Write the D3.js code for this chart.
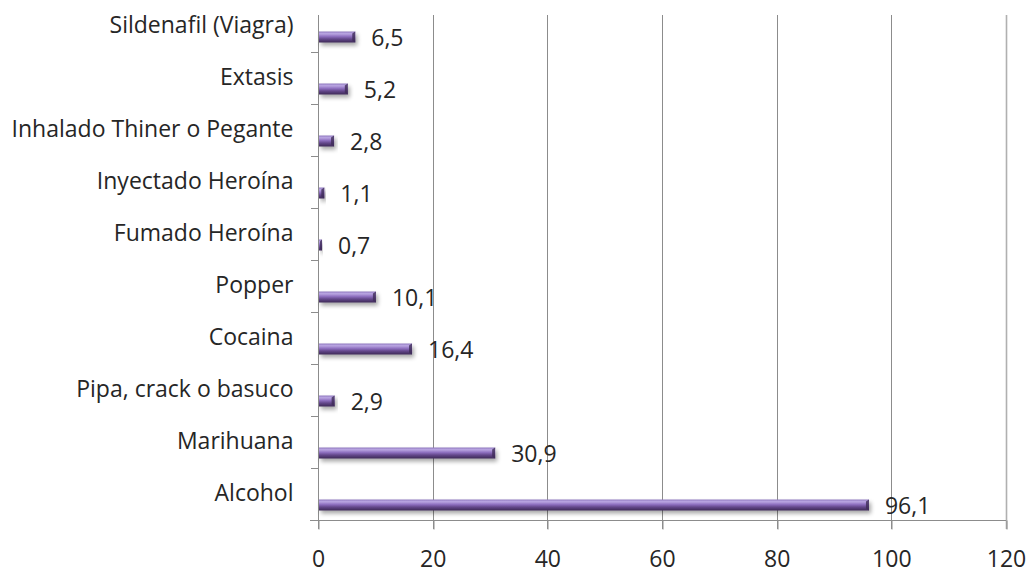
<!DOCTYPE html>
<html>
<head>
<meta charset="utf-8">
<script src="https://cdn.jsdelivr.net/npm/d3@7"></script>
<style>
  html, body { margin: 0; padding: 0; background: #fff; }
  svg text { font-family: "Open Sans", "Lato", sans-serif; fill: #262626; }
</style>
</head>
<body>
<svg id="chart" width="1033" height="575"></svg>
<script>
// Substances, listed bottom to top as they appear on the category axis
const categories = [
  "Alcohol", "Marihuana", "Pipa, crack o basuco", "Cocaina", "Popper",
  "Fumado Heroína", "Inyectado Heroína", "Inhalado Thiner o Pegante",
  "Extasis", "Sildenafil (Viagra)"
];
const values = [96.1, 30.9, 2.9, 16.4, 10.1, 0.7, 1.1, 2.8, 5.2, 6.5];
const tickValues = [0, 20, 40, 60, 80, 100, 120];
const valueLabels = values.map(v => String(v).replace(".", ","));

const svg = d3.select("#chart");
const fontFamily = "'Open Sans', Lato, sans-serif";
const fontSize = 23;

const plotLeft = 318, plotRight = 1006, plotBottom = 520, plotTop = 0, wallTop = 15;
const depth = 11;      // downward shift of bars toward the floor
const barH = 11;

const x = d3.scaleLinear().domain([0, 120]).range([plotLeft, plotRight]);
const y = d3.scaleBand().domain(categories).range([plotBottom, plotTop]);

// gradients and shadow
const defs = svg.append("defs");
const g1 = defs.append("linearGradient").attr("id", "barGrad")
  .attr("x1", 0).attr("y1", 0).attr("x2", 0).attr("y2", 1);
[[0, "#9179c0"], [0.2, "#baa6e2"], [0.45, "#8e6fbf"], [0.7, "#614688"], [1, "#3d2a56"]]
  .forEach(([o, c]) => g1.append("stop").attr("offset", o).attr("stop-color", c));
const f = defs.append("filter").attr("id", "shadow")
  .attr("x", "-10%").attr("y", "-50%").attr("width", "130%").attr("height", "250%");
f.append("feGaussianBlur").attr("in", "SourceAlpha").attr("stdDeviation", 2).attr("result", "b");
f.append("feOffset").attr("in", "b").attr("dx", 2).attr("dy", 3).attr("result", "o");
f.append("feComponentTransfer").attr("in", "o").attr("result", "s")
  .append("feFuncA").attr("type", "linear").attr("slope", 0.35);
const m = f.append("feMerge");
m.append("feMergeNode").attr("in", "s");
m.append("feMergeNode").attr("in", "SourceGraphic");

// vertical gridlines
const grid = svg.append("g");
grid.selectAll("line").data(tickValues.slice(1)).join("line")
  .attr("x1", d => Math.round(x(d)) + 0.5).attr("x2", d => Math.round(x(d)) + 0.5)
  .attr("y1", wallTop).attr("y2", plotBottom + 9)
  .attr("stroke", d => d === 120 ? "#b0b0b0" : "#8c8c8c")
  .attr("stroke-width", d => d === 120 ? 1.6 : 1);

// value axis along the floor
const xAxis = svg.append("g").attr("transform", `translate(0,${plotBottom + 0.5})`)
  .call(d3.axisBottom(x).tickValues(tickValues).tickSize(9).tickPadding(21)
    .tickFormat(d3.format("d")));
xAxis.select(".domain").remove();
xAxis.selectAll(".tick line").attr("stroke", "#8c8c8c")
  .attr("transform", d => `translate(${Math.round(x(d)) + 0.5 - x(d)},0)`);
xAxis.selectAll("text").attr("font-size", fontSize).attr("fill", "#262626")
  .attr("font-family", fontFamily);
svg.append("line").attr("x1", plotLeft - 8).attr("x2", plotRight)
  .attr("y1", plotBottom + 0.5).attr("y2", plotBottom + 0.5).attr("stroke", "#8c8c8c");

// category axis
svg.append("line").attr("x1", plotLeft + 0.5).attr("x2", plotLeft + 0.5)
  .attr("y1", wallTop).attr("y2", plotBottom + 9).attr("stroke", "#8c8c8c");
const yAxis = svg.append("g").attr("transform", `translate(${plotLeft + 0.5},0)`)
  .call(d3.axisLeft(y).tickSize(0).tickPadding(25));
yAxis.select(".domain").remove();
yAxis.selectAll("text").attr("font-size", fontSize).attr("fill", "#262626")
  .attr("font-family", fontFamily);
svg.append("g").selectAll("line").data(categories.slice(0, -1)).join("line")
  .attr("x1", plotLeft - 7).attr("x2", plotLeft)
  .attr("y1", d => Math.round(y(d)) + 0.5).attr("y2", d => Math.round(y(d)) + 0.5)
  .attr("stroke", "#8c8c8c");

// bars
const bars = svg.append("g");
const barY = d => y(d) + y.bandwidth() / 2 + depth - barH / 2;
bars.selectAll("rect").data(categories).join("rect")
  .attr("x", x(0) + 1)
  .attr("y", d => barY(d))
  .attr("width", (d, i) => Math.max(1, x(values[i]) - x(0) - 1))
  .attr("height", barH)
  .attr("fill", "url(#barGrad)")
  .attr("filter", "url(#shadow)");
// darker bevel at the bar tips
bars.selectAll("path.tip").data(categories).join("path").attr("class", "tip")
  .attr("d", (d, i) => {
    const xe = x(values[i]), y0 = barY(d), b = Math.min(3, (xe - x(0)) / 2);
    return `M${xe - b},${y0 + 2}L${xe},${y0}L${xe},${y0 + barH}L${xe - b},${y0 + barH - 2}Z`;
  })
  .attr("fill", "#3f2c58").attr("opacity", 0.8);

// value labels
svg.append("g").selectAll("text").data(categories).join("text")
  .attr("x", (d, i) => x(values[i]) + 16)
  .attr("y", d => y(d) + y.bandwidth() / 2 + 12)
  .attr("dy", "0.35em")
  .attr("font-size", fontSize)
  .attr("font-family", fontFamily)
  .text((d, i) => valueLabels[i]);
</script>
</body>
</html>
